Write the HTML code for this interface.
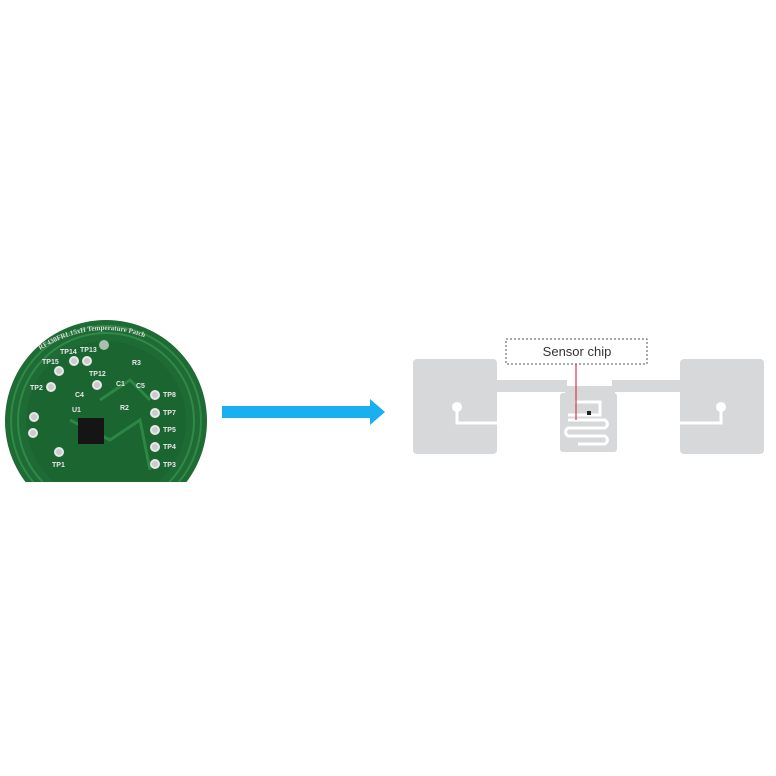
<!DOCTYPE html>
<html><head><style>body{margin:0;background:#fff}svg{display:block}</style></head><body>
<svg width="776" height="776" viewBox="0 0 776 776" xmlns="http://www.w3.org/2000/svg">
<defs><clipPath id="c"><rect x="0" y="0" width="776" height="482"/></clipPath>
<path id="arc" d="M40 350 Q105 310 170 350"/></defs>
<g clip-path="url(#c)">
<circle cx="106" cy="421" r="101" fill="#1f6b35"/>
<circle cx="106" cy="421" r="95" fill="none" stroke="#2f8a45" stroke-width="2"/>
<circle cx="106" cy="421" r="88" fill="none" stroke="#2f8a45" stroke-width="2"/>
<circle cx="106" cy="421" r="80" fill="#1a6530"/>
<path d="M70 420 L110 440 L140 420 L150 470 M100 400 L130 380 L150 400" stroke="#2d8643" stroke-width="3" fill="none"/>
<text font-family="Liberation Serif,serif" font-size="7" font-weight="bold" fill="#ddd"><textPath href="#arc">RF430FRL15xH Temperature Patch</textPath></text>
<circle cx="104" cy="345" r="5" fill="#aabfae"/>
<rect x="78" y="418" width="26" height="26" fill="#151515"/>
<g fill="#c9ccca" stroke="#e8e8e8" stroke-width="2">
<circle cx="74" cy="361" r="4"/><circle cx="87" cy="361" r="4"/><circle cx="59" cy="371" r="4"/><circle cx="51" cy="387" r="4"/><circle cx="97" cy="385" r="4"/>
<circle cx="155" cy="395" r="4"/><circle cx="155" cy="413" r="4"/><circle cx="155" cy="430" r="4"/><circle cx="155" cy="447" r="4"/><circle cx="155" cy="464" r="4"/>
<circle cx="59" cy="452" r="4"/><circle cx="34" cy="417" r="4"/><circle cx="33" cy="433" r="4"/>
</g>
<g font-family="Liberation Sans,sans-serif" font-size="7" font-weight="bold" fill="#e8e8e8">
<text x="60" y="354">TP14</text><text x="80" y="352">TP13</text><text x="42" y="364">TP15</text><text x="30" y="390">TP2</text><text x="89" y="376">TP12</text>
<text x="163" y="397">TP8</text><text x="163" y="415">TP7</text><text x="163" y="432">TP5</text><text x="163" y="449">TP4</text><text x="163" y="467">TP3</text><text x="52" y="467">TP1</text>
<text x="72" y="412">U1</text><text x="75" y="397">C4</text><text x="132" y="365">R3</text><text x="116" y="386">C1</text><text x="136" y="388">C5</text><text x="120" y="410">R2</text>
</g>
</g>
<rect x="222" y="406" width="150" height="12" fill="#1ab0ef"/>
<polygon points="370,399 385,412 370,425" fill="#1ab0ef"/>
<g fill="#d6d8da">
<rect x="413" y="359" width="84" height="95" rx="4"/>
<rect x="680" y="359" width="84" height="95" rx="4"/>
<rect x="495" y="380" width="72" height="12"/>
<rect x="612" y="380" width="70" height="12"/>
<rect x="565" y="386" width="50" height="8"/>
<rect x="560" y="393" width="57" height="59" rx="3"/>
</g>
<g fill="none" stroke="#fff" stroke-width="3">
<path d="M457 407 L457 423 L497 423"/>
<path d="M721 407 L721 423 L680 423"/>
<path d="M575 402 L600 402 L600 415 L568 415 M568 420 L605 420 Q610 424 605 428 L568 428 Q563 432 568 436 L605 436 Q610 440 605 444 L578 444"/>
</g>
<circle cx="457" cy="407" r="5" fill="#fff"/><circle cx="721" cy="407" r="5" fill="#fff"/>
<rect x="587" y="411" width="4" height="4" fill="#222"/>
<line x1="576" y1="364" x2="576" y2="420" stroke="#d43a4a" stroke-width="1.2"/>
<rect x="506" y="339" width="141" height="25" fill="#fff" stroke="#555" stroke-width="1" stroke-dasharray="2,2"/>
<text x="577" y="356" text-anchor="middle" font-family="Liberation Sans,sans-serif" font-size="13" fill="#333">Sensor chip</text>
</svg>
</body></html>
